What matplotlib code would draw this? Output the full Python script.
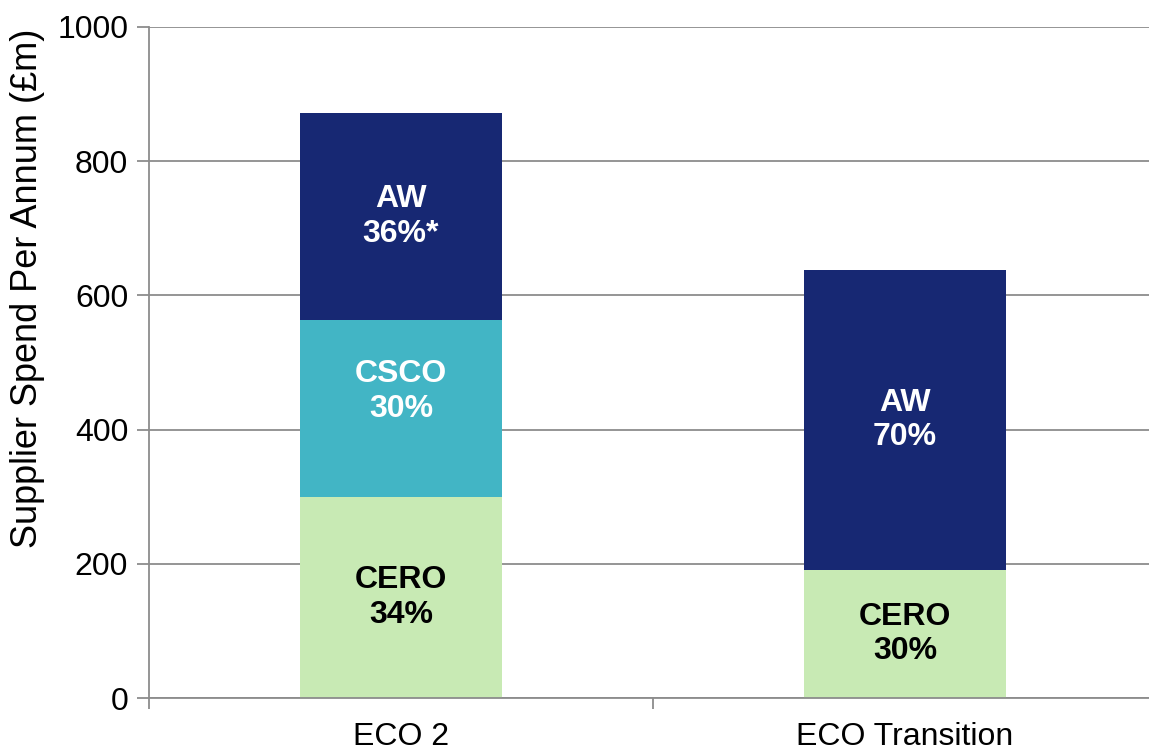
import matplotlib.pyplot as plt
import numpy as np

plt.rcParams['font.family'] = ['Liberation Sans', 'DejaVu Sans']

# data (supplier spend, £m per annum)
schemes = ["ECO 2", "ECO Transition"]
cero = [300, 191]
csco = [263, 0]
aw = [309, 447]
cero_lbl = ["CERO\n34%", "CERO\n30%"]
csco_lbl = ["CSCO\n30%", ""]
aw_lbl = ["AW\n36%*", "AW\n70%"]

green = "#c8eab4"
teal = "#42b5c5"
navy = "#172873"
grid = "#8c8c8c"

fig = plt.figure(figsize=(11.49, 7.51), dpi=100)
ax = fig.add_axes([149 / 1149, 53 / 751, 1008 / 1149, 671 / 751])

x = np.arange(len(schemes))
w = 0.4
ax.bar(x, cero, w, color=green, zorder=2)
ax.bar(x, csco, w, bottom=cero, color=teal, zorder=2)
bottom3 = np.array(cero) + np.array(csco)
ax.bar(x, aw, w, bottom=bottom3, color=navy, zorder=2)

# segment labels
for i in range(len(schemes)):
    ax.text(x[i], cero[i] / 2, cero_lbl[i], ha='center', va='center',
            fontsize=23, fontweight='bold', color='black', linespacing=1.2, zorder=3)
    if csco[i] > 0:
        ax.text(x[i], cero[i] + csco[i] / 2 + 25, csco_lbl[i], ha='center', va='center',
                fontsize=23, fontweight='bold', color='white', linespacing=1.2, zorder=3)
    ax.text(x[i], bottom3[i] + aw[i] / 2, aw_lbl[i], ha='center', va='center',
            fontsize=23, fontweight='bold', color='white', linespacing=1.2, zorder=3)

ax.set_xlim(-0.5, 1.5)
ax.set_ylim(0, 1000)
ax.set_yticks(range(0, 1001, 200))
ax.yaxis.grid(True, color=grid, linewidth=1.3, zorder=0)
ax.set_axisbelow(True)

ax.set_xticks(x)
ax.set_xticklabels(schemes)
ax.set_xticks([-0.5, 0.5, 1.5], minor=True)
ax.tick_params(axis='x', which='major', length=0, labelsize=23, pad=17)
ax.tick_params(axis='x', which='minor', length=8, color=grid, width=1.3)
ax.tick_params(axis='y', length=9, color=grid, width=1.3, labelsize=23, pad=6)

for s in ['top', 'right']:
    ax.spines[s].set_visible(False)
for s in ['left', 'bottom']:
    ax.spines[s].set_color(grid)
    ax.spines[s].set_linewidth(1.3)

ax.set_ylabel("Supplier Spend Per Annum (£m)", fontsize=26)
ax.yaxis.set_label_coords(-0.103, 0.61)

fig.savefig("out.png", dpi=100)
